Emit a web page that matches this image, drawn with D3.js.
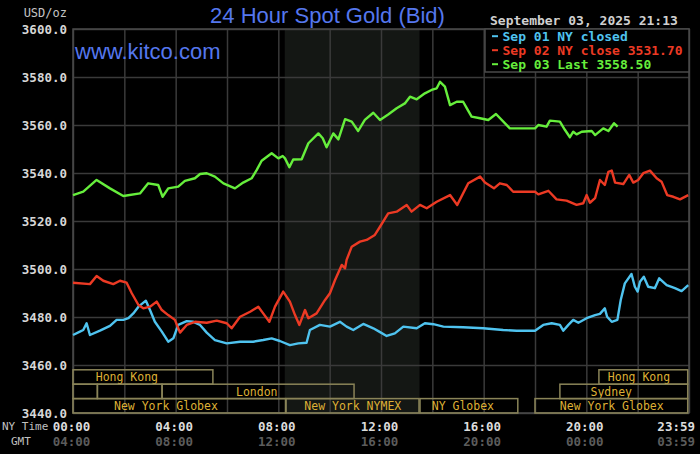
<!DOCTYPE html>
<html>
<head>
<meta charset="utf-8">
<script src="https://cdn.jsdelivr.net/npm/d3@7"></script>
<style>
  body { margin: 0; background: #000; }
  svg { display: block; }
</style>
</head>
<body>
<svg id="chart"></svg>
<script>
// ---- data (hours since 00:00 NY time, price in USD/oz) ----
const sep01Hours = [0, 0.27, 0.4, 0.53, 0.66, 1.05, 1.44, 1.7, 1.96, 2.16,
  2.35, 2.55, 2.84, 3.0, 3.19, 3.46, 3.71, 3.91, 4.1, 4.43,
  4.69, 4.95, 5.21, 5.53, 5.99, 6.51, 7.02, 7.41, 7.74, 8.06,
  8.45, 8.78, 9.1, 9.23, 9.62, 10.01, 10.4, 10.66, 10.92, 11.31,
  11.7, 11.93, 12.22, 12.54, 12.87, 13.39, 13.71, 14.04, 14.43, 15.2,
  15.98, 16.76, 17.28, 18.0, 18.32, 18.65, 18.97, 19.1, 19.3, 19.49,
  19.69, 20.01, 20.34, 20.53, 20.72, 20.81, 20.99, 21.21, 21.34, 21.5,
  21.76, 21.89, 22.0, 22.09, 22.24, 22.41, 22.67, 22.84, 23.13, 23.45,
  23.71, 23.97];
const sep01Values = [3472.5, 3473.9, 3474.6, 3477.4, 3472.5, 3474.3, 3476.3, 3478.8, 3478.8, 3479.5,
  3481.5, 3484.3, 3486.8, 3482.9, 3478.0, 3473.9, 3469.7, 3471.1, 3476.7, 3478.3,
  3478.0, 3476.7, 3473.5, 3470.4, 3469.0, 3469.7, 3469.7, 3470.4, 3471.1, 3470.0,
  3468.3, 3469.0, 3469.3, 3474.6, 3476.7, 3476.0, 3478.0, 3476.0, 3474.6, 3477.1,
  3475.3, 3473.9, 3472.1, 3473.2, 3476.0, 3475.3, 3477.4, 3477.0, 3476.0, 3475.7,
  3475.3, 3474.6, 3474.3, 3474.3, 3476.7, 3477.4, 3476.7, 3474.3, 3476.7, 3478.8,
  3477.6, 3479.5, 3480.8, 3481.3, 3483.6, 3480.1, 3478.0, 3478.8, 3487.1, 3494.0,
  3497.9, 3492.6, 3490.6, 3494.7, 3496.8, 3492.6, 3492.0, 3496.1, 3493.3, 3492.0,
  3490.8, 3493.3];

const sep02Hours = [0, 0.66, 0.92, 1.18, 1.57, 1.83, 2.09, 2.29, 2.55, 2.74,
  3.0, 3.26, 3.46, 3.71, 3.97, 4.17, 4.43, 4.75, 5.21, 5.6,
  5.99, 6.18, 6.51, 6.9, 7.22, 7.41, 7.65, 7.87, 8.19, 8.45,
  8.65, 8.82, 9.04, 9.17, 9.49, 9.82, 10.01, 10.21, 10.47, 10.6,
  10.66, 10.86, 11.18, 11.44, 11.76, 11.96, 12.28, 12.61, 13.0, 13.19,
  13.52, 13.78, 14.17, 14.69, 14.97, 15.4, 15.86, 16.05, 16.4, 16.63,
  16.9, 17.15, 18.0, 18.13, 18.52, 18.84, 19.23, 19.62, 19.88, 20.01,
  20.14, 20.34, 20.53, 20.72, 20.86, 20.99, 21.12, 21.44, 21.67, 21.83,
  22.02, 22.22, 22.48, 22.74, 22.93, 23.15, 23.39, 23.65, 23.97];
const sep02Values = [3494.3, 3493.7, 3497.1, 3495.1, 3493.7, 3495.1, 3494.3, 3489.9, 3485.0, 3483.6,
  3484.3, 3486.4, 3482.9, 3480.8, 3478.8, 3473.5, 3476.7, 3478.0, 3477.6, 3478.5,
  3477.4, 3475.3, 3480.1, 3482.2, 3484.3, 3481.5, 3478.0, 3484.3, 3490.6, 3486.4,
  3480.8, 3476.7, 3482.9, 3479.5, 3481.5, 3487.1, 3489.9, 3495.4, 3501.7, 3500.3,
  3503.8, 3509.3, 3511.4, 3512.1, 3514.2, 3517.6, 3523.2, 3523.9, 3526.7, 3523.9,
  3526.7, 3525.3, 3528.0, 3530.8, 3526.7, 3535.7, 3538.5, 3536.0, 3533.6, 3535.7,
  3535.0, 3532.2, 3532.2, 3531.1, 3532.6, 3529.0, 3528.5, 3526.7, 3527.4, 3530.8,
  3527.6, 3529.5, 3537.1, 3535.0, 3540.5, 3541.0, 3536.0, 3535.4, 3539.2, 3536.0,
  3537.1, 3539.9, 3541.0, 3537.8, 3536.4, 3530.8, 3530.1, 3529.0, 3530.8];

const sep03Hours = [0, 0.4, 0.92, 1.44, 1.96, 2.61, 2.93, 3.32, 3.49, 3.71,
  4.1, 4.36, 4.75, 4.95, 5.21, 5.53, 5.86, 6.31, 6.63, 6.96,
  7.16, 7.35, 7.74, 8.0, 8.17, 8.26, 8.43, 8.58, 8.91, 9.17,
  9.56, 9.73, 9.88, 10.14, 10.34, 10.6, 10.86, 11.11, 11.37, 11.7,
  11.96, 12.28, 12.61, 12.93, 13.13, 13.39, 13.71, 13.97, 14.17, 14.3,
  14.49, 14.69, 14.95, 15.2, 15.34, 15.53, 15.86, 16.18, 16.48, 17.02,
  18.0, 18.13, 18.45, 18.58, 18.97, 19.17, 19.36, 19.49, 19.62, 19.82,
  20.21, 20.34, 20.66, 20.86, 21.08, 21.22];
const sep03Values = [3530.8, 3532.2, 3537.1, 3533.6, 3530.4, 3531.5, 3535.7, 3535.0, 3530.1, 3533.6,
  3534.3, 3536.7, 3537.8, 3539.6, 3539.9, 3538.5, 3535.7, 3533.6, 3536.0, 3537.8,
  3541.3, 3545.1, 3548.2, 3546.1, 3547.1, 3546.1, 3542.4, 3545.6, 3545.7, 3552.4,
  3556.5, 3554.5, 3550.7, 3556.5, 3554.0, 3562.4, 3561.4, 3557.5, 3562.1, 3565.1,
  3562.1, 3564.4, 3567.0, 3569.0, 3571.8, 3570.7, 3573.2, 3574.6, 3575.3, 3578.0,
  3576.0, 3568.3, 3569.7, 3569.7, 3567.0, 3563.5, 3562.8, 3562.1, 3564.6, 3558.6,
  3558.6, 3560.0, 3559.3, 3561.8, 3561.4, 3557.9, 3554.9, 3557.2, 3556.1, 3557.2,
  3557.5, 3555.8, 3558.6, 3557.5, 3560.7, 3559.3];

const seriesNames = ['Sep 01 NY closed', 'Sep 02 NY close 3531.70', 'Sep 03 Last 3558.50'];
const seriesColors = ['#4fc3ef', '#ec3a24', '#66ee3c'];

const yTicks = [3440, 3460, 3480, 3500, 3520, 3540, 3560, 3580, 3600];
const xTickHours = [0, 4, 8, 12, 16, 20, 24];
const nyTimeLabels = ['00:00', '04:00', '08:00', '12:00', '16:00', '20:00', '23:59'];
const gmtLabels = ['04:00', '08:00', '12:00', '16:00', '20:00', '00:00', '03:59'];

// NYMEX trading window (shaded)
const nymexWindow = [8.25, 13.5];

// market sessions: row, start hour, end hour, label, label centre hour
const sessionRows = [0, 0, 1, 1, 1, 1, 2, 2, 2, 2];
const sessionStarts = [0, 20.49, 0, 0.95, 3.47, 18.97, 0, 8.3, 13.52, 18.0];
const sessionEnds = [5.45, 23.95, 0.95, 3.47, 10.95, 23.95, 8.28, 13.48, 17.33, 23.95];
const sessionLabels = ['Hong Kong', 'Hong Kong', '', '', 'London', 'Sydney',
  'New York Globex', 'New York NYMEX', 'NY Globex', 'New York Globex'];
const sessionLabelAt = [2.1, 22.05, 0, 0, 7.16, 20.97, 3.62, 10.9, 15.19, 20.99];

// ---- chart ----
const W = 700, H = 454;
const margin = {top: 29, right: 11, bottom: 41, left: 73};
const width = W - margin.left - margin.right;
const height = H - margin.top - margin.bottom;
const mono = '"DejaVu Sans Mono", "Liberation Mono", monospace';
const sans = '"Liberation Sans", Arial, sans-serif';

const svg = d3.select('#chart').attr('width', W).attr('height', H);
svg.append('rect').attr('width', W).attr('height', H).attr('fill', '#000');

const x = d3.scaleLinear().domain([0, 24]).range([0, width]);
const y = d3.scaleLinear().domain([3440, 3600]).range([height, 0]);

const chart = svg.append('g').attr('transform', `translate(${margin.left},${margin.top})`);

// shaded NYMEX hours
chart.append('rect')
  .attr('x', x(nymexWindow[0]))
  .attr('width', x(nymexWindow[1]) - x(nymexWindow[0]))
  .attr('y', 0).attr('height', height)
  .attr('fill', '#141714');

// grid
const yAxis = d3.axisLeft(y).tickValues(yTicks).tickSize(-width).tickPadding(6)
  .tickFormat(d3.format('.1f'));
const yAxisG = chart.append('g').call(yAxis);
yAxisG.select('.domain').remove();
yAxisG.selectAll('line').attr('stroke', '#3a3a3a').attr('stroke-width', 1.5);
yAxisG.selectAll('text')
  .attr('fill', '#d6d6d6')
  .style('font-family', mono).style('font-size', '12.5px').style('font-weight', 'bold');

const xAxis = d3.axisBottom(x).tickValues(d3.range(0, 25, 2)).tickSize(-height).tickFormat('');
const xAxisG = chart.append('g').attr('transform', `translate(0,${height})`).call(xAxis);
xAxisG.select('.domain').remove();
xAxisG.selectAll('line').attr('stroke', '#3a3a3a').attr('stroke-width', 1.5);

// plot frame
chart.append('rect').attr('width', width).attr('height', height)
  .attr('fill', 'none').attr('stroke', '#4a4a4a').attr('stroke-width', 1.5);

// session boxes
const rowH = 14.4;
const rowTop = height - 3 * rowH;
const sessions = sessionRows.map((r, i) => ({
  row: r, start: sessionStarts[i], end: sessionEnds[i],
  label: sessionLabels[i], at: sessionLabelAt[i]
}));
const sess = chart.append('g').selectAll('g').data(sessions).join('g');
sess.append('rect')
  .attr('x', d => x(d.start))
  .attr('y', d => rowTop + d.row * rowH)
  .attr('width', d => x(d.end) - x(d.start))
  .attr('height', rowH)
  .attr('fill', 'none')
  .attr('stroke', '#8a8458')
  .attr('stroke-width', 1.5);
sess.append('text')
  .attr('x', d => x(d.at))
  .attr('y', d => rowTop + d.row * rowH + rowH / 2)
  .attr('dy', '0.36em')
  .attr('text-anchor', 'middle')
  .attr('fill', '#deb035')
  .style('font-family', mono).style('font-size', '11.5px')
  .text(d => d.label);

// price lines
const series = [
  {hours: sep01Hours, values: sep01Values},
  {hours: sep02Hours, values: sep02Values},
  {hours: sep03Hours, values: sep03Values}
];
const line = d3.line().x(d => x(d[0])).y(d => y(d[1]));
chart.append('g').selectAll('path')
  .data(series)
  .join('path')
  .attr('d', d => line(d.hours.map((h, i) => [h, d.values[i]])))
  .attr('fill', 'none')
  .attr('stroke', (d, i) => seriesColors[i])
  .attr('stroke-width', 2.4)
  .attr('stroke-linejoin', 'round');

// legend
const legend = chart.append('g').attr('transform', `translate(${width - 204},0)`);
legend.append('rect').attr('width', 204).attr('height', 43)
  .attr('fill', '#000').attr('stroke', '#4a4a4a').attr('stroke-width', 1.5);
const entries = legend.selectAll('g.entry').data(seriesNames).join('g')
  .attr('class', 'entry')
  .attr('transform', (d, i) => `translate(0,${7.2 + i * 14})`);
entries.append('line')
  .attr('x1', 7).attr('x2', 13).attr('y1', 0).attr('y2', 0)
  .attr('stroke', (d, i) => seriesColors[i]).attr('stroke-width', 2);
entries.append('text')
  .attr('x', 17.5).attr('dy', '0.36em')
  .attr('fill', (d, i) => seriesColors[i])
  .style('font-family', mono).style('font-size', '13px').style('font-weight', 'bold')
  .text(d => d);

// titles
svg.append('text')
  .attr('x', 327.5).attr('y', 23)
  .attr('text-anchor', 'middle')
  .attr('fill', '#5577ee')
  .style('font-family', sans).style('font-size', '22px')
  .text('24 Hour Spot Gold (Bid)');
svg.append('text')
  .attr('x', 75).attr('y', 59)
  .attr('fill', '#5577ee')
  .style('font-family', sans).style('font-size', '22px')
  .text('www.kitco.com');
svg.append('text')
  .attr('x', 490).attr('y', 25)
  .attr('fill', '#d0d0d0')
  .style('font-family', mono).style('font-size', '13px').style('font-weight', 'bold')
  .text('September 03, 2025 21:13');
svg.append('text')
  .attr('x', margin.left - 6).attr('y', 13).attr('dy', '0.36em')
  .attr('text-anchor', 'end')
  .attr('fill', '#c4c4c4')
  .style('font-family', mono).style('font-size', '12px')
  .text('USD/oz');

// time axis labels
svg.append('text').attr('x', 2).attr('y', 426).attr('dy', '0.36em')
  .attr('fill', '#c0c0c0').style('font-family', mono).style('font-size', '11px')
  .text('NY Time');
svg.append('text').attr('x', 11).attr('y', 441).attr('dy', '0.36em')
  .attr('fill', '#c0c0c0').style('font-family', mono).style('font-size', '11px')
  .text('GMT');

const last = xTickHours.length - 1;
svg.append('g').selectAll('text').data(xTickHours).join('text')
  .attr('x', (d, i) => i === last ? W - 5 : margin.left + x(d) - 1.5)
  .attr('y', 426).attr('dy', '0.36em')
  .attr('text-anchor', (d, i) => i === last ? 'end' : 'middle')
  .attr('fill', '#dcdcdc')
  .style('font-family', mono).style('font-size', '12.5px').style('font-weight', 'bold')
  .text((d, i) => nyTimeLabels[i]);
svg.append('g').selectAll('text').data(xTickHours).join('text')
  .attr('x', (d, i) => i === last ? W - 5 : margin.left + x(d) - 1.5)
  .attr('y', 441).attr('dy', '0.36em')
  .attr('text-anchor', (d, i) => i === last ? 'end' : 'middle')
  .attr('fill', '#5c5c5c')
  .style('font-family', mono).style('font-size', '12.5px').style('font-weight', 'bold')
  .text((d, i) => gmtLabels[i]);
</script>
</body>
</html>
